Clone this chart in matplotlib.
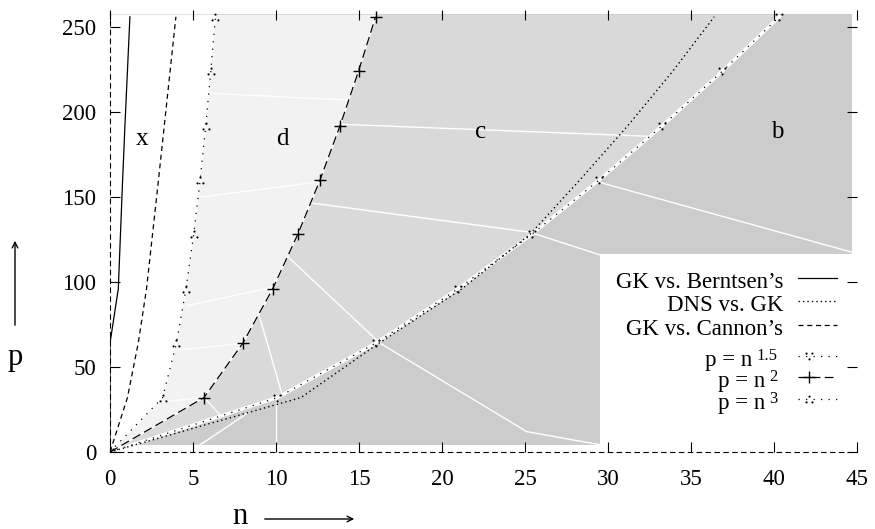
import numpy as np
import matplotlib
matplotlib.use('Agg')
import matplotlib.pyplot as plt
from matplotlib.patches import Rectangle

plt.rcParams['font.family'] = ['Liberation Serif', 'DejaVu Serif']
plt.rcParams['mathtext.fontset'] = 'custom'
plt.rcParams['mathtext.rm'] = 'Liberation Serif'
plt.rcParams['mathtext.it'] = 'Liberation Serif:italic'

# ---------------- data ----------------
p_grid = [0, 32, 64, 96, 128, 160, 192, 224, 256]
n_cube = [0, 3.17, 4.00, 4.58, 5.04, 5.43, 5.77, 6.07, 6.35]        # p = n^3
n_square = [0, 5.66, 8.00, 9.80, 11.31, 12.65, 13.86, 14.97, 16.00]  # p = n^2
n_onehalf = [0, 10.08, 16.00, 20.97, 25.40, 29.47, 33.28, 36.89, 40.32]  # p = n^1.5
n_berntsen = [0, 0, 0, 0.50, 0.63, 0.76, 0.90, 1.05, 1.20]
n_dns = [0, 11.5, 16.2, 21.2, 25.3, 28.3, 31.2, 33.9, 36.4]
n_cannon = [0, 1.05, 1.70, 2.20, 2.56, 2.92, 3.27, 3.62, 3.97]

region_names = ['x', 'd', 'c', 'b']
region_n = [1.93, 10.36, 22.3, 40.2]
region_p = [180.6, 180.6, 185.0, 185.0]

x_ticks = [0, 5, 10, 15, 20, 25, 30, 35, 40, 45]
y_ticks = [0, 50, 100, 150, 200, 250]

# surface extent (shaded domain)
dom_p_lo, dom_p_hi, dom_n_hi = 4.0, 257.5, 44.7
legend_box_n = [29.5, 45.0]
legend_box_p = [3.0, 116.5]

# white mesh edges of the shaded surface
mesh_n = [[6.0, 14.46], [5.5, 12.65], [4.6, 9.84], [4.16, 8.13], [3.21, 5.72],
          [13.86, 32.5], [12.1, 25.3, 29.5], [29.5, 44.7],
          [10.7, 16.27, 25.1, 29.5], [8.98, 10.34], [10.0, 10.0],
          [5.4, 8.3], [5.72, 6.7]]
mesh_p = [[211, 207], [150, 159], [86, 97], [60, 64], [29.5, 32.3],
          [192.8, 185.7], [146.5, 129.3, 116], [158.6, 117.5],
          [115, 64, 12, 4.3], [80.6, 34.8], [31.6, 4],
          [4, 23], [31.6, 21]]

legend_main = ["GK vs. Berntsen\u2019s", "DNS vs. GK", "GK vs. Cannon\u2019s",
               "p = n", "p = n", "p = n"]
legend_sup = ["", "", "", "1.5", "2", "3"]

col_b, col_c, col_d = '#cccccc', '#d9d9d9', '#f2f2f2'

# ---------------- figure ----------------
W, H = 875, 529
fig = plt.figure(figsize=(W / 100, H / 100), dpi=100)
ax_l, ax_r, ax_b, ax_t = 110, 857, 452, 10
ax = fig.add_axes([ax_l / W, 1 - ax_b / H, (ax_r - ax_l) / W, (ax_b - ax_t) / H])
ax.set_xlim(0, 45)
ax.set_ylim(0, 260)

# shaded regions
pp = np.array([dom_p_lo] + p_grid[1:] + [dom_p_hi])
ax.add_patch(Rectangle((0, dom_p_lo), dom_n_hi, dom_p_hi - dom_p_lo,
                       facecolor=col_b, edgecolor='none', zorder=0.1))
ax.fill_betweenx(pp, 0, np.interp(pp, p_grid, n_onehalf), color=col_c, lw=0, zorder=0.2)
ax.fill_betweenx(pp, 0, np.interp(pp, p_grid, n_square), color=col_d, lw=0, zorder=0.3)
ax.fill_betweenx(pp, 0, np.interp(pp, p_grid, n_cube), color='white', lw=0, zorder=0.4)

# white mesh lines
for mn, mp in zip(mesh_n, mesh_p):
    ax.plot(mn, mp, color='white', lw=1.0, zorder=0.6)
ax.plot(n_onehalf, p_grid, color='white', lw=2.4, zorder=0.6)
ax.plot(n_square, p_grid, color='white', lw=1.3, zorder=0.6)

# legend box (opaque)
ax.add_patch(Rectangle((legend_box_n[0], legend_box_p[0]),
                       legend_box_n[1] - legend_box_n[0], legend_box_p[1] - legend_box_p[0],
                       facecolor='white', edgecolor='none', zorder=0.8))

# curves
st_bern = dict(color='black', lw=0.9, ls='-')
st_dns = dict(color='black', lw=1.0, ls=(0, (1, 2.2)))
st_can = dict(color='black', lw=0.9, ls=(0, (4, 3)))
st_15 = dict(color='black', lw=0.9, ls=(0, (1, 5)), marker='$\\because$', ms=5.5, mew=0.2)
st_2 = dict(color='black', lw=0.9, ls=(0, (7, 3.5)), marker='+', ms=9, mew=1.0)
st_3 = dict(color='black', lw=0.9, ls=(0, (1, 5)), marker='$\\therefore$', ms=5.5, mew=0.2)

ax.plot(n_berntsen, p_grid, zorder=3, **st_bern)
ax.plot(n_dns, p_grid, zorder=3, **st_dns)
ax.plot(n_cannon, p_grid, zorder=3, **st_can)
ax.plot(n_onehalf, p_grid, zorder=3, **st_15)
ax.plot(n_square, p_grid, zorder=3, **st_2)
ax.plot(n_cube, p_grid, zorder=3, **st_3)

# region labels
for nm, rn, rp in zip(region_names, region_n, region_p):
    ax.text(rn, rp, nm, fontsize=18, ha='center', va='baseline', zorder=4)

# axes styling (gnuplot-like)
for s in ['top', 'right']:
    ax.spines[s].set_visible(False)
for s in ['left', 'bottom']:
    ax.spines[s].set_linestyle((0, (4, 4)))
    ax.spines[s].set_linewidth(0.8)
ax.set_xticks(x_ticks)
ax.set_yticks(y_ticks)
ax.tick_params(direction='in', length=7, width=0.8, top=True, right=True,
               labelsize=16.5)
ax.tick_params(axis='x', pad=12)
ax.tick_params(axis='y', pad=10)
ax.set_axisbelow(False)

# legend (manual, gnuplot style)
def fx(px):
    return (px - ax_l) / (ax_r - ax_l)

def fy(py):
    return (ax_b - py) / (ax_b - ax_t)

renderer = fig.canvas.get_renderer()
sample_y = [277.5, 301, 325, 356, 377, 399]
styles = [st_bern, st_dns, st_can, st_15, st_2, st_3]
x0, x1 = fx(798), fx(837)
text_right = 783
for lab, sup, sy, st in zip(legend_main, legend_sup, sample_y, styles):
    base = sy + 10
    right = text_right
    if sup:
        t = ax.text(fx(777), fy(base - 6), sup, transform=ax.transAxes, fontsize=12,
                    ha='right', va='baseline', zorder=5)
        bb = t.get_window_extent(renderer=renderer)
        right = bb.x0 - 4
    ax.text(fx(right), fy(base), lab, transform=ax.transAxes, fontsize=16.5,
            ha='right', va='baseline', zorder=5)
    kw = dict(st)
    if 'marker' in kw:
        ax.plot([x0, (x0 + x1) / 2 - 0.012, x1], [fy(sy)] * 3, transform=ax.transAxes,
                markevery=[1], zorder=5, clip_on=False, **kw)
    else:
        ax.plot([x0, x1], [fy(sy)] * 2, transform=ax.transAxes, zorder=5,
                clip_on=False, **kw)

# axis labels with arrows
fig.text(15 / W, 1 - 357 / H, 'p', fontsize=22, ha='center', va='center')
fig.text(240 / W, 1 - 516 / H, 'n', fontsize=22, ha='center', va='center')
ax.annotate('', xy=(15, H - 238), xytext=(15, H - 328), xycoords='figure pixels',
            textcoords='figure pixels', arrowprops=dict(arrowstyle='->', lw=1.0, color='black'))
ax.annotate('', xy=(357, H - 519), xytext=(262, H - 519), xycoords='figure pixels',
            textcoords='figure pixels', arrowprops=dict(arrowstyle='->', lw=1.0, color='black'))

fig.savefig('out.png', dpi=100)
